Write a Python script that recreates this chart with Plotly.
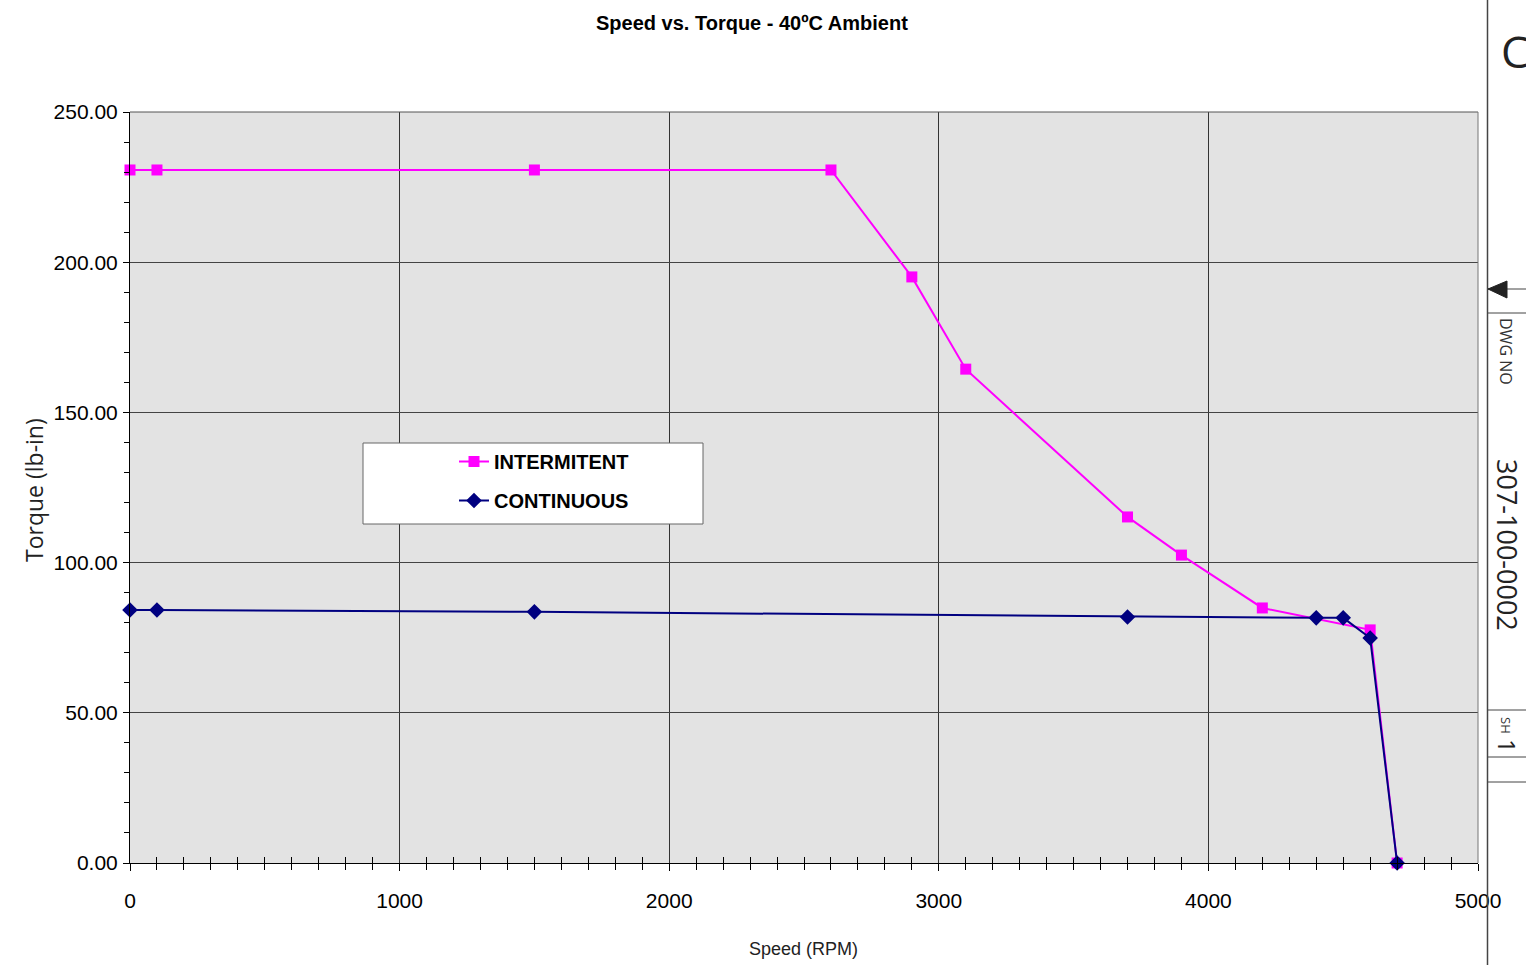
import plotly.graph_objects as go

# ---- data ----
int_speed = [0, 100, 1500, 2600, 2900, 3100, 3700, 3900, 4200, 4600, 4700]
int_torque = [230.7, 230.7, 230.7, 230.7, 195.1, 164.4, 115.2, 102.5, 84.9, 77.6, 0.0]
cont_speed = [0, 100, 1500, 3700, 4400, 4500, 4600, 4700]
cont_torque = [84.2, 84.2, 83.6, 81.9, 81.6, 81.6, 74.9, 0.0]

title_text = "Speed vs. Torque - 40ºC Ambient"
x_title = "Speed (RPM)"
y_title = "Torque (lb-in)"

W, H = 1526, 965
L, R, T, B = 130, 1478, 112, 863


def px_x(p):
    return (p - L) / (R - L)


def px_y(p):
    return (B - p) / (B - T)


SANS = "Liberation Sans, Arial, sans-serif"
THIN = "Open Sans, Noto Sans, DejaVu Sans, sans-serif"

fig = go.Figure()
fig.add_trace(go.Scatter(
    x=int_speed, y=int_torque, name="INTERMITENT", mode="lines+markers",
    line=dict(color="#FF00FF", width=2),
    marker=dict(symbol="square", size=11, color="#FF00FF"),
    cliponaxis=False, legendgroup="a"))
fig.add_trace(go.Scatter(
    x=cont_speed, y=cont_torque, name="CONTINUOUS", mode="lines+markers",
    line=dict(color="#000080", width=2),
    marker=dict(symbol="diamond", size=12, color="#000080"),
    cliponaxis=False, legendgroup="b"))

# overlay axis for inside half of crossing minor ticks
fig.add_trace(go.Scatter(x=[0, 5000], y=[0, 0], xaxis="x2", mode="lines",
                         line=dict(width=0), showlegend=False, hoverinfo="skip"))

fig.update_layout(
    width=W, height=H,
    margin=dict(l=L, r=W - R, t=T, b=H - B),
    paper_bgcolor="white", plot_bgcolor="#E3E3E3",
    showlegend=True,
    legend=dict(x=px_x(454), y=px_y(442), xanchor="left", yanchor="top",
                bgcolor="rgba(0,0,0,0)", borderwidth=0, tracegroupgap=10,
                font=dict(family=SANS, size=20, color="black", weight="bold")),
    xaxis=dict(range=[0, 5000], dtick=1000, tick0=0, tickformat="d",
               showgrid=True, gridcolor="#333333", gridwidth=1, zeroline=False,
               showline=True, linecolor="black", linewidth=1,
               ticks="outside", ticklen=7, tickcolor="black",
               ticklabelstandoff=12,
               minor=dict(dtick=100, ticks="outside", ticklen=6, tickcolor="black", showgrid=False),
               tickfont=dict(family=SANS, size=21, color="black")),
    xaxis2=dict(range=[0, 5000], overlaying="x", anchor="y", side="bottom",
                showgrid=False, zeroline=False, showticklabels=False,
                ticks="", showline=False,
                minor=dict(dtick=100, ticks="inside", ticklen=6, tickcolor="black", showgrid=False)),
    yaxis=dict(range=[0, 250], dtick=50, tick0=0, tickformat=".2f",
               showgrid=True, gridcolor="#444444", gridwidth=1, zeroline=False,
               showline=True, linecolor="black", linewidth=1,
               ticks="outside", ticklen=6, tickcolor="black",
               ticklabelstandoff=1,
               minor=dict(dtick=10, ticks="outside", ticklen=5, tickcolor="black", showgrid=False),
               tickfont=dict(family=SANS, size=21, color="black")),
)

shapes = []
# plot frame top/right
shapes.append(dict(type="line", xref="paper", yref="paper", x0=0, x1=1, y0=1, y1=1,
                   line=dict(color="#555555", width=1)))
shapes.append(dict(type="line", xref="paper", yref="paper", x0=1, x1=1, y0=0, y1=1,
                   line=dict(color="#777777", width=1)))
# legend box
shapes.append(dict(type="rect", xref="paper", yref="paper",
                   x0=px_x(363), x1=px_x(703), y0=px_y(524), y1=px_y(443),
                   fillcolor="white", line=dict(color="#666666", width=1), layer="above"))
# drawing border on right
shapes.append(dict(type="line", xref="paper", yref="paper",
                   x0=px_x(1487.5), x1=px_x(1487.5), y0=px_y(-5), y1=px_y(970),
                   line=dict(color="#444444", width=1.5)))
for yy in [289, 313, 710, 757, 782]:
    shapes.append(dict(type="line", xref="paper", yref="paper",
                       x0=px_x(1488), x1=px_x(1530), y0=px_y(yy), y1=px_y(yy),
                       line=dict(color="#444444", width=1)))
# arrow
shapes.append(dict(type="path", xref="paper", yref="paper",
                   path="M {} {} L {} {} L {} {} Z".format(px_x(1488), px_y(289),
                                                          px_x(1507), px_y(281),
                                                          px_x(1507), px_y(298)),
                   fillcolor="#222222", line=dict(color="#222222", width=1)))
fig.update_layout(shapes=shapes)

ann = []
ann.append(dict(text=title_text, xref="paper", yref="paper", x=px_x(752), y=px_y(23),
                xanchor="center", yanchor="middle", showarrow=False,
                font=dict(family=SANS, size=20, color="black", weight="bold")))
ann.append(dict(text=x_title, xref="paper", yref="paper", x=px_x(803), y=px_y(949),
                xanchor="center", yanchor="middle", showarrow=False,
                font=dict(family=SANS, size=18, color="#222222")))
ann.append(dict(text=y_title, xref="paper", yref="paper", x=px_x(34), y=px_y(490),
                xanchor="center", yanchor="middle", showarrow=False, textangle=-90,
                font=dict(family=THIN, size=23, color="#222222")))
ann.append(dict(text="C", xref="paper", yref="paper", x=px_x(1499), y=px_y(51),
                xanchor="left", yanchor="middle", showarrow=False,
                font=dict(family=THIN, size=44, color="#222222")))
ann.append(dict(text="DWG NO", xref="paper", yref="paper", x=px_x(1506), y=px_y(351),
                xanchor="center", yanchor="middle", showarrow=False, textangle=90,
                font=dict(family=THIN, size=16, color="#333333")))
ann.append(dict(text="307-100-0002", xref="paper", yref="paper", x=px_x(1508), y=px_y(545),
                xanchor="center", yanchor="middle", showarrow=False, textangle=90,
                font=dict(family=THIN, size=27, color="#222222")))
ann.append(dict(text="SH", xref="paper", yref="paper", x=px_x(1506), y=px_y(725),
                xanchor="center", yanchor="middle", showarrow=False, textangle=90,
                font=dict(family=THIN, size=13, color="#333333")))
ann.append(dict(text="1", xref="paper", yref="paper", x=px_x(1508), y=px_y(746),
                xanchor="center", yanchor="middle", showarrow=False, textangle=90,
                font=dict(family=THIN, size=24, color="#222222")))
fig.update_layout(annotations=ann)

fig.write_html("out.html", config={"displayModeBar": False},
               post_script="document.body.style.margin='0';document.body.style.overflow='hidden';")
